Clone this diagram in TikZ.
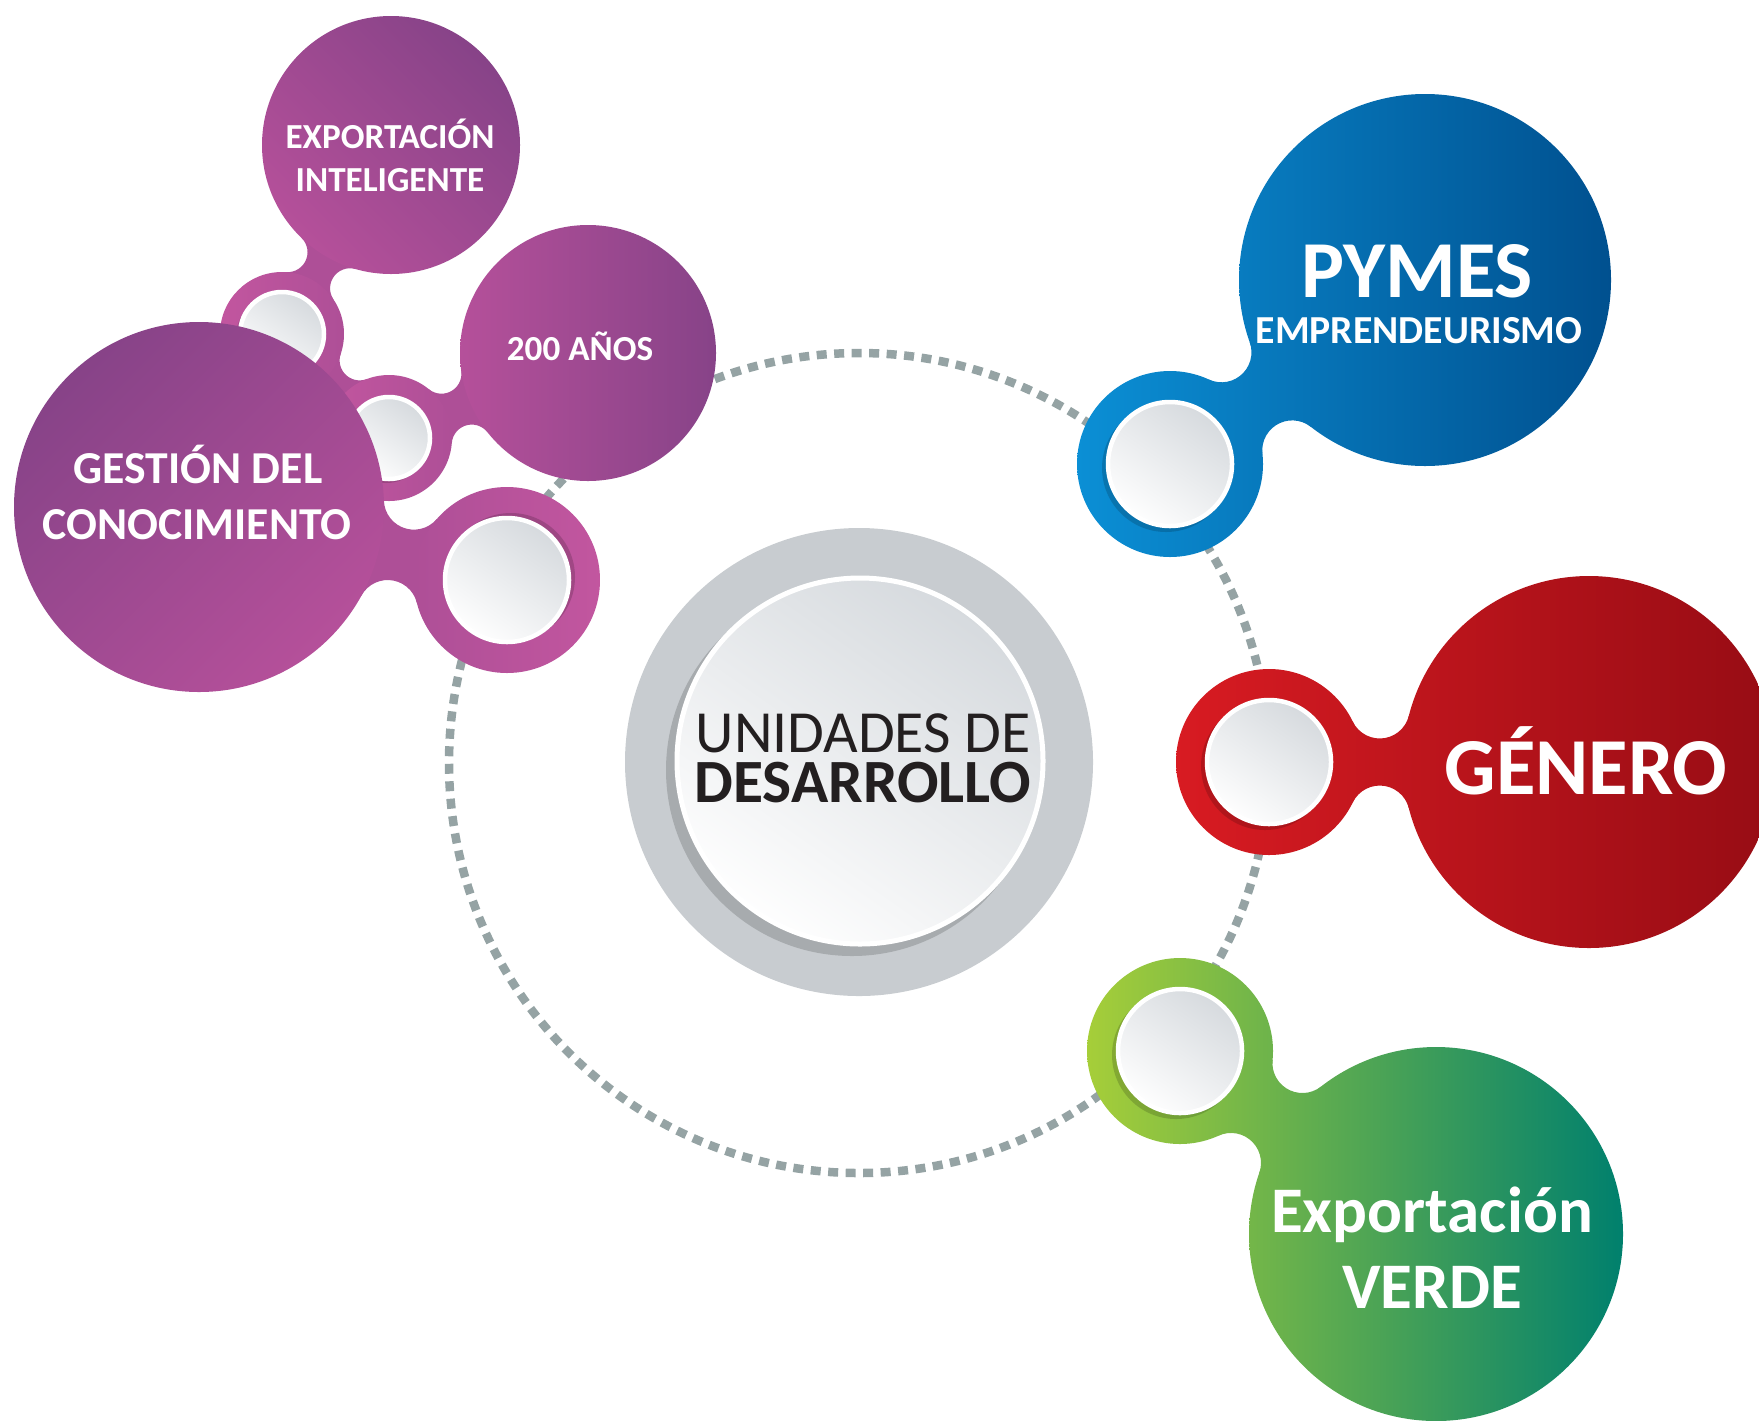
\documentclass[tikz,border=0pt]{standalone}
\usepackage{fontspec}
\setmainfont{Carlito}

\definecolor{dotgray}{HTML}{95A3A4}
\definecolor{cgray}{HTML}{C8CCD0}
\definecolor{discdark}{HTML}{D6DADE}
\definecolor{ctextcol}{HTML}{231F20}
\definecolor{purpdark}{HTML}{874388}
\definecolor{purplight}{HTML}{B5509A}
\definecolor{purpmid}{HTML}{AE4F97}
\definecolor{pinkring}{HTML}{C2569F}
\definecolor{blueL}{HTML}{0B8FD5}
\definecolor{blueR}{HTML}{00508F}
\definecolor{redL}{HTML}{D81B22}
\definecolor{redR}{HTML}{970C14}
\definecolor{greenL}{HTML}{A6CE39}
\definecolor{greenR}{HTML}{00806D}

% neck between two circles (x,y,r)(x,y,r) with fillet radius #8
\def\neck#1(#2,#3,#4)(#5,#6,#7)#8{%
  \pgfmathsetmacro\nkd{veclen(#5-#2,#6-#3)}%
  \pgfmathsetmacro\nka{#4+#8}%
  \pgfmathsetmacro\nkb{#7+#8}%
  \pgfmathsetmacro\nkx{(\nka*\nka-\nkb*\nkb+\nkd*\nkd)/(2*\nkd)}%
  \pgfmathsetmacro\nkh{sqrt(\nka*\nka-\nkx*\nkx)}%
  \pgfmathsetmacro\nkux{(#5-#2)/\nkd}%
  \pgfmathsetmacro\nkuy{(#6-#3)/\nkd}%
  \pgfmathsetmacro\nkpx{#2+\nkx*\nkux+\nkh*\nkuy}%
  \pgfmathsetmacro\nkpy{#3+\nkx*\nkuy-\nkh*\nkux}%
  \pgfmathsetmacro\nkqx{#2+\nkx*\nkux-\nkh*\nkuy}%
  \pgfmathsetmacro\nkqy{#3+\nkx*\nkuy+\nkh*\nkux}%
  \pgfmathsetmacro\nksa{atan2(#3-\nkpy,#2-\nkpx)}%
  \pgfmathsetmacro\nkea{atan2(#6-\nkpy,#5-\nkpx)}%
  \pgfmathsetmacro\nkea{\nkea+360*((\nkea-\nksa)<-180)-360*((\nkea-\nksa)>180)}%
  \pgfmathsetmacro\nksb{atan2(#6-\nkqy,#5-\nkqx)}%
  \pgfmathsetmacro\nkeb{atan2(#3-\nkqy,#2-\nkqx)}%
  \pgfmathsetmacro\nkeb{\nkeb+360*((\nkeb-\nksb)<-180)-360*((\nkeb-\nksb)>180)}%
  \path[#1] (#2,#3)
    -- plot[domain=\nksa:\nkea, samples=16, variable=\nkt] ({\nkpx+#8*cos(\nkt)},{\nkpy+#8*sin(\nkt)})
    -- (#5,#6)
    -- plot[domain=\nksb:\nkeb, samples=16, variable=\nkt] ({\nkqx+#8*cos(\nkt)},{\nkqy+#8*sin(\nkt)})
    -- cycle;}

\tikzset{
  orbit/.style={draw=dotgray, line width=0.85mm, dash pattern=on 1mm off 0.75mm},
  dshadow/.style={fill=black, opacity=0.16},
  cdisc/.style={top color=discdark, bottom color=white!97!discdark, shading angle=-35, draw=white, line width=0.5mm},
  rdisc/.style={top color=discdark, bottom color=white!97!discdark, shading angle=-35, draw=white, line width=0.45mm},
  ctext/.style={text=ctextcol, inner sep=0pt},
  lbl/.style={text=white, inner sep=0pt, anchor=base},
  pcA/.style={top color=purpdark, bottom color=purplight, shading angle=-45},
  pcB/.style={left color=purplight, right color=purpdark},
  pcG/.style={top color=purpdark, bottom color=purplight, shading angle=45},
  pring/.style={left color=pinkring, right color=purpmid},
  pringR/.style={left color=purpmid, right color=pinkring},
  pneck/.style={fill=purpmid},
  blobblue/.style={path picture={\shade[left color=blueL, right color=blueR] (10.77,0.94) rectangle (16.12,5.57);}},
  blobred/.style={path picture={\shade[left color=redL, right color=redR] (11.76,5.76) rectangle (17.75,9.48);}},
  blobgreen/.style={path picture={\shade[left color=greenL, right color=greenR] (10.87,9.58) rectangle (16.23,14.21);}}
}

\begin{document}
\begin{tikzpicture}[x=1cm, y=-1cm]
  \useasboundingbox (0,0) rectangle (17.59,14.20);

  % dotted orbit
  \draw[orbit] (8.59,7.63) circle (4.10);

  % centre
  \fill[cgray] (8.59,7.62) circle (2.34);
  \fill[dshadow] (8.52,7.70) circle (1.86);
  \path[cdisc] (8.60,7.61) circle (1.83);
  \node[ctext, align=center, font=\fontsize{17}{14.2}\selectfont] (unidades) at (8.63,7.58)
    {UNIDADES DE\\{\fontsize{17.5}{14.2}\selectfont\bfseries DESARROLLO}};

  % purple cluster
  \neck{pneck}(3.91,1.45,1.29)(2.82,3.34,0.62){0.2}
  \neck{pneck}(2.82,3.34,0.62)(3.89,4.38,0.63){0.2}
  \neck{pneck}(3.89,4.38,0.63)(5.88,3.53,1.28){0.2}
  \path[pring] (2.82,3.34) circle (0.62);
  \path[pring] (3.89,4.38) circle (0.63);
  \path[pcA] (3.91,1.45) circle (1.29);
  \path[pcB] (5.88,3.53) circle (1.28);
  \fill[dshadow] (2.79,3.37) circle (0.43);
  \path[rdisc] (2.82,3.34) circle (0.42);
  \fill[dshadow] (3.86,4.41) circle (0.42);
  \path[rdisc] (3.89,4.38) circle (0.41);
  \neck{pneck}(1.99,5.07,1.85)(5.07,5.80,0.93){0.3}
  \path[pringR] (5.07,5.80) circle (0.93);
  \path[pcG] (1.99,5.07) circle (1.85);
  \fill[dshadow] (5.11,5.77) circle (0.64);
  \path[rdisc] (5.07,5.80) circle (0.62);

  \node[lbl, font=\fontsize{10}{10}\selectfont\bfseries] (expo1) at (3.90,1.48) {EXPORTACIÓN};
  \node[lbl, font=\fontsize{10}{10}\selectfont\bfseries] (expo2) at (3.90,1.91) {INTELIGENTE};
  \node[lbl, font=\fontsize{10}{10}\selectfont\bfseries] (anios) at (5.80,3.60) {200 AÑOS};
  \node[lbl, font=\fontsize{13}{13}\selectfont\bfseries] (gest1) at (1.98,4.83) {GESTIÓN DEL};
  \node[lbl, font=\fontsize{13}{13}\selectfont\bfseries] (gest2) at (1.97,5.39) {CONOCIMIENTO};

  % blue
  \neck{blobblue}(11.70,4.64,0.93)(14.25,2.80,1.86){0.3}
  \path[blobblue] (11.70,4.64) circle (0.93);
  \path[blobblue] (14.25,2.80) circle (1.86);
  \fill[dshadow] (11.66,4.68) circle (0.64);
  \path[rdisc] (11.70,4.64) circle (0.62);
  \node[lbl, font=\fontsize{23}{23}\selectfont\bfseries] (pymes) at (14.17,2.97) {PYMES};
  \node[lbl, font=\fontsize{11.3}{11.3}\selectfont\bfseries] (empren) at (14.19,3.43) {EMPRENDEURISMO};

  % red
  \neck{blobred}(12.69,7.62,0.93)(15.89,7.62,1.86){0.3}
  \path[blobred] (12.69,7.62) circle (0.93);
  \path[blobred] (15.89,7.62) circle (1.86);
  \fill[dshadow] (12.65,7.66) circle (0.64);
  \path[rdisc] (12.69,7.62) circle (0.62);
  \node[lbl, font=\fontsize{23}{23}\selectfont\bfseries] (genero) at (15.86,7.94) {GÉNERO};

  % green
  \neck{blobgreen}(11.80,10.51,0.93)(14.36,12.34,1.87){0.3}
  \path[blobgreen] (11.80,10.51) circle (0.93);
  \path[blobgreen] (14.36,12.34) circle (1.87);
  \fill[dshadow] (11.76,10.55) circle (0.64);
  \path[rdisc] (11.80,10.51) circle (0.62);
  \node[lbl, font=\fontsize{18.5}{18.5}\selectfont\bfseries] (verde1) at (14.32,12.32) {Exportación};
  \node[lbl, font=\fontsize{18.5}{18.5}\selectfont\bfseries] (verde2) at (14.32,13.08) {VERDE};
\end{tikzpicture}
\end{document}
